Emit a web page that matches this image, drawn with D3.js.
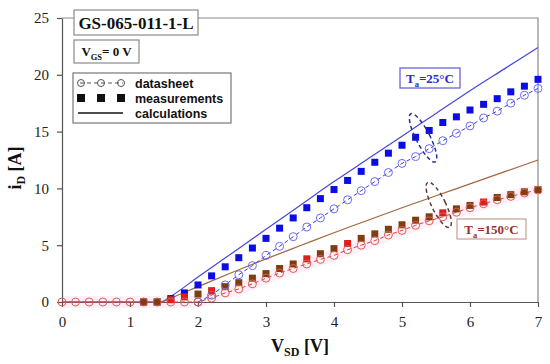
<!DOCTYPE html>
<html>
<head>
<meta charset="utf-8">
<script src="https://cdn.jsdelivr.net/npm/d3@7"></script>
<style>
  body { margin:0; background:#fff; }
  .serif { font-family:"Liberation Serif", "Times New Roman", serif; }
  .sans { font-family:"Liberation Sans", Arial, sans-serif; }
</style>
</head>
<body>
<svg id="chart" width="550" height="364"></svg>
<script>
// datasheet points (V_SD, i_D)
var vData150 = [0,0.2,0.4,0.6,0.8,1.0,1.2,1.4,1.6,1.8,2.0,2.2,2.4,2.6,2.8,3.0,3.2,3.4,3.6,3.8,4.0,4.2,4.4,4.6,4.8,5.0,5.2,5.4,5.6,5.8,6.0,6.2,6.4,6.6,6.8,7.0];
var iData150 = [0,0,0,0,0,0,0,0,0,0,0,0.35,0.8,1.15,1.6,2.1,2.55,2.95,3.35,3.75,4.1,4.6,5.0,5.4,5.9,6.3,6.75,7.15,7.5,7.9,8.3,8.65,9.0,9.3,9.6,9.85];
var vData25 = [2.0,2.2,2.4,2.6,2.8,3.0,3.2,3.4,3.6,3.8,4.0,4.2,4.4,4.6,4.8,5.0,5.2,5.4,5.6,5.8,6.0,6.2,6.4,6.6,6.8,7.0];
var iData25 = [0,0.6,1.5,2.4,3.2,4.1,4.9,5.75,6.6,7.4,8.2,9.0,9.8,10.6,11.4,12.2,12.8,13.5,14.2,14.85,15.5,16.2,16.8,17.5,18.2,18.8];

// measurements
var vMeas = [1.2,1.4,1.6,1.8,2.0,2.2,2.4,2.6,2.8,3.0,3.2,3.4,3.6,3.8,4.0,4.2,4.4,4.6,4.8,5.0,5.2,5.4,5.6,5.8,6.0,6.2,6.4,6.6,6.8,7.0];
var iMeas25 = [0,0,0.3,0.8,1.5,2.3,3.1,3.9,4.75,5.6,6.5,7.4,8.3,9.1,9.9,10.7,11.5,12.3,13.1,13.8,14.5,15.1,15.8,16.3,16.9,17.4,17.9,18.5,19.0,19.6];
var iMeas150 = [0,0,0.2,0.45,0.7,1.0,1.35,1.7,2.1,2.5,2.95,3.35,3.8,4.25,4.7,5.15,5.6,6.0,6.4,6.8,7.2,7.5,7.85,8.2,8.5,8.8,9.2,9.45,9.7,9.9];
var redMeas150 = [1.6,1.8,2.2,3.6,4.2,5.6,6.2]; // points printed in red

// calculations
var vCalc = [0,1.45,1.6,2.0,2.5,3.0,3.5,4.0,4.5,5.0,5.5,6.0,6.5,7.0];
var iCalc25 = [0,0,0.5,2.2,4.3,6.4,8.5,10.6,12.6,14.6,16.6,18.6,20.5,22.4];
var iCalc150 = [0,0,0.35,1.35,2.6,3.8,4.95,6.1,7.2,8.3,9.35,10.4,11.45,12.5];

var xTicks = [0,1,2,3,4,5,6,7];
var yTicks = [0,5,10,15,20,25];

var svg = d3.select('#chart');

var x = d3.scaleLinear().domain([0,7]).range([62,538]);
var y = d3.scaleLinear().domain([0,25]).range([302,18]);

function pts(vs, is) { return vs.map(function(v,i){ return [v, is[i]]; }); }

var line = d3.line().x(function(d){ return x(d[0]); }).y(function(d){ return y(d[1]); });
var smooth = d3.line().curve(d3.curveMonotoneX).x(function(d){ return x(d[0]); }).y(function(d){ return y(d[1]); });

// frame (top + right)
svg.append('path')
  .attr('d', 'M' + x(0) + ',' + y(25) + 'H' + x(7) + 'V' + y(0))
  .attr('fill','none').attr('stroke','#8a8a8a').attr('stroke-width',1.2);

// pink highlight behind 150C series
svg.append('path')
  .datum(pts(vData150, iData150))
  .attr('d', line)
  .attr('fill','none').attr('stroke','#fcdcf2').attr('stroke-opacity',0.45)
  .attr('stroke-width',12).attr('stroke-linejoin','round');

// axes
var gx = svg.append('g').attr('transform','translate(0,' + y(0) + ')')
  .call(d3.axisBottom(x).tickValues(xTicks).tickFormat(d3.format('d')).tickSize(5).tickPadding(9).tickSizeOuter(0));
var gy = svg.append('g').attr('transform','translate(' + x(0) + ',0)')
  .call(d3.axisLeft(y).tickValues(yTicks).tickFormat(d3.format('d')).tickSize(5).tickPadding(8).tickSizeOuter(0));
[gx, gy].forEach(function(g){
  g.selectAll('path,line').attr('stroke','#555').attr('stroke-width',1.2);
  g.selectAll('text').attr('class','serif').attr('font-size',15).attr('fill','#222');
});

// calculated lines
svg.append('path').datum(pts(vCalc, iCalc25)).attr('d', smooth)
  .attr('fill','none').attr('stroke','#4646e0').attr('stroke-width',1.2);
svg.append('path').datum(pts(vCalc, iCalc150)).attr('d', smooth)
  .attr('fill','none').attr('stroke','#a4663e').attr('stroke-width',1.2);

// datasheet dashed lines + circles
svg.append('path').datum(pts(vData25, iData25)).attr('d', line)
  .attr('fill','none').attr('stroke','#3b3bd8').attr('stroke-width',1).attr('stroke-dasharray','4,3');
svg.append('path').datum(pts(vData150, iData150)).attr('d', line)
  .attr('fill','none').attr('stroke','#e03a3a').attr('stroke-width',1).attr('stroke-dasharray','4,3');

// measurement squares
svg.append('g').selectAll('rect').data(pts(vMeas, iMeas25)).enter().append('rect')
  .attr('x', function(d){ return x(d[0]) - 3.5; })
  .attr('y', function(d){ return y(d[1]) - 3.5; })
  .attr('width',7).attr('height',7).attr('fill','#0c0ce6');
svg.append('g').selectAll('rect').data(pts(vMeas, iMeas150)).enter().append('rect')
  .attr('x', function(d){ return x(d[0]) - 3.5; })
  .attr('y', function(d){ return y(d[1]) - 3.5; })
  .attr('width',7).attr('height',7)
  .attr('fill', function(d){ return redMeas150.indexOf(d[0]) >= 0 ? '#e01c1c' : '#7d3f12'; });

svg.append('g').selectAll('circle').data(pts(vData25, iData25)).enter().append('circle')
  .attr('cx', function(d){ return x(d[0]); }).attr('cy', function(d){ return y(d[1]); })
  .attr('r',4).attr('fill','none').attr('stroke','#6a6af2').attr('stroke-width',1);
svg.append('g').selectAll('circle').data(pts(vData150, iData150)).enter().append('circle')
  .attr('cx', function(d){ return x(d[0]); }).attr('cy', function(d){ return y(d[1]); })
  .attr('r',4).attr('fill','none').attr('stroke','#d9604e').attr('stroke-width',1);

// dashed ellipses
svg.append('ellipse')
  .attr('transform','translate(' + x(5.31) + ',' + y(14.45) + ') rotate(-27)')
  .attr('rx',7).attr('ry',27).attr('fill','none')
  .attr('stroke','#2a2a9a').attr('stroke-width',1.5).attr('stroke-dasharray','4,3');
svg.append('ellipse')
  .attr('transform','translate(' + x(5.54) + ',' + y(8.55) + ') rotate(-26)')
  .attr('rx',7).attr('ry',25).attr('fill','none')
  .attr('stroke','#5a4030').attr('stroke-width',1.5).attr('stroke-dasharray','4,3');

// temperature labels
function subLabel(g, cx, cy, main, sub, rest, size, col) {
  var t = g.append('text').attr('class','serif').attr('x',cx).attr('y',cy)
    .attr('text-anchor','middle').attr('font-weight','bold').attr('font-size',size).attr('fill',col);
  t.append('tspan').text(main);
  t.append('tspan').attr('font-size', size*0.65).attr('dy', size*0.28).text(sub);
  t.append('tspan').attr('dy', -size*0.28).text(rest);
  return t;
}
svg.append('rect').attr('x',400).attr('y',68).attr('width',60).attr('height',20)
  .attr('fill','#fff').attr('stroke','#5a5ad6').attr('stroke-width',1.2);
subLabel(svg, 430, 83, 'T', 'a', '=25°C', 13, '#2a2ad0');
svg.append('rect').attr('x',457).attr('y',219).attr('width',69).attr('height',20)
  .attr('fill','#fff').attr('stroke','#c8a090').attr('stroke-width',1.2);
subLabel(svg, 491.5, 234, 'T', 'a', '=150°C', 13, '#9a3028');

// title boxes
svg.append('rect').attr('x',74).attr('y',10).attr('width',124).attr('height',25)
  .attr('fill','#fff').attr('stroke','#8a8a8a').attr('stroke-width',1.2);
svg.append('text').attr('class','serif').attr('x',136).attr('y',29)
  .attr('text-anchor','middle').attr('font-weight','bold').attr('font-size',17).attr('fill','#111')
  .text('GS-065-011-1-L');
svg.append('rect').attr('x',74).attr('y',40).attr('width',65).attr('height',23)
  .attr('fill','#fff').attr('stroke','#8a8a8a').attr('stroke-width',1.2);
subLabel(svg, 106.5, 56, 'V', 'GS', '= 0 V', 13, '#111');

// legend
var leg = svg.append('g');
leg.append('rect').attr('x',73).attr('y',73).attr('width',158).attr('height',50)
  .attr('fill','#fff').attr('stroke','#777').attr('stroke-width',1.2);
var legItems = ['datasheet','measurements','calculations'];
legItems.forEach(function(name, i){
  var ly = 83 + i*15;
  if (i === 0) {
    leg.append('line').attr('x1',80).attr('x2',123).attr('y1',ly).attr('y2',ly)
      .attr('stroke','#555').attr('stroke-dasharray','4,3');
    [81,101,121].forEach(function(cx){
      leg.append('circle').attr('cx',cx).attr('cy',ly).attr('r',3.5)
        .attr('fill','none').attr('stroke','#555');
    });
  } else if (i === 1) {
    [81,101,121].forEach(function(cx){
      leg.append('rect').attr('x',cx-4).attr('y',ly-4).attr('width',8).attr('height',8).attr('fill','#111');
    });
  } else {
    leg.append('line').attr('x1',78).attr('x2',123).attr('y1',ly).attr('y2',ly)
      .attr('stroke','#111').attr('stroke-width',1.3);
  }
  leg.append('text').attr('class','sans').attr('x',135).attr('y',ly+4.5)
    .attr('font-weight','bold').attr('font-size',12.5).attr('fill','#111').text(name);
});

// axis titles
var yt = svg.append('text').attr('class','serif')
  .attr('transform','translate(21,168) rotate(-90)')
  .attr('text-anchor','middle').attr('font-weight','bold').attr('font-size',18).attr('fill','#111');
yt.append('tspan').text('i');
yt.append('tspan').attr('font-size',12).attr('dy',4).text('D');
yt.append('tspan').attr('dy',-4).text(' [A]');

var xt = svg.append('text').attr('class','serif').attr('x',300).attr('y',352)
  .attr('text-anchor','middle').attr('font-weight','bold').attr('font-size',18).attr('fill','#111');
xt.append('tspan').text('V');
xt.append('tspan').attr('font-size',12).attr('dy',4).text('SD');
xt.append('tspan').attr('dy',-4).text(' [V]');
</script>
</body>
</html>
